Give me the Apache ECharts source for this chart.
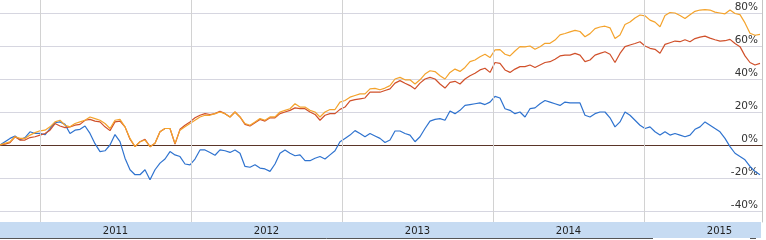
<!DOCTYPE html>
<html><head><meta charset="utf-8">
<script src="https://cdn.jsdelivr.net/npm/echarts@6/dist/echarts.min.js"></script>
<style>html,body{margin:0;padding:0;background:#fff}#c{width:766px;height:240px}</style>
</head><body><div id="c"></div>
<script>
// sample positions (fractional years), one every ~12 days
const startYear = 2010.7351;
const stepYears = 5 / 151;
const endYear = 2015.7815;

const yearLabels = [2011, 2012, 2013, 2014, 2015];

const orange = [
0,1,2,5,4,4,6,7.5,8.6,9,
11,14,15,12,11,13,14,15,17,16,
15,13,10,15,15.5,11,4,-1,2,3,
-1,1,8,10,10,1,9,11,13,15,
17,18,18,19,20,19,17,20,17,13,
12,14,16,15,17,17,20,21,22,25,
23,23,21,20,17,20,21.5,21.5,26,27,
29,30,31,31,34,34.3,33.5,34.5,36,40,
41,39.5,39.5,37,39.5,43,45,44.5,42,40,
44,46,44.6,47,50.5,51.5,53.5,55,53,57.6,
57.8,55,54,57,59.6,59.5,60,58,59.6,61.6,
61.6,63.6,66.7,67.6,68.6,69.5,68.8,65.6,67.5,70.5,
71.5,72,71,64.6,66.7,73,74.5,77,78.8,78.3,
75.7,74.5,71.7,78.5,80.3,80,78.5,76.7,79,81,
81.8,82,81.8,80.5,80,79.5,81.8,79.7,79,74,
67.7,66.5,67
];

const red = [
0,0.5,1.4,5,3,3,4.5,5,6,7,
9,13,11.5,10.5,11,12,12.5,15,15.5,14.5,
14,11,8.7,14,14.5,11,3.5,-1,2,3.5,
-1,1,8,10,10,0.5,9.5,12,14,16.5,
18,19,18.5,19,20.5,19,17,20,17,12.5,
11.5,13.5,15.5,14.5,16.5,16.5,19,20,21,22.5,
22,22,20,18.5,15,18,19,19,21.6,23,
26.7,27.5,28,28.5,32,32,32,33,34,37.5,
39,37.4,36,34,37.5,40,41,40,37,34.5,
38,38.6,37,40,42,43.5,45.5,46.5,44,50,
49.5,45.5,44,46,47.5,47.5,48.5,47,48.5,50,
50.5,52,54,54.5,54.5,55.5,54.5,50.5,51.5,54.5,
55.5,56.5,55,50,55.5,59.6,60.6,61.5,62.6,60,
58.6,58,55.6,61,62,63,62.6,63.8,62.6,64.5,
65.4,66,64.8,63.8,63,63.2,64,61.5,59.6,54,
50,48.5,49.5
];

const blue = [
0,2,4,5.5,3.2,4.5,8,7,7,6.2,
10,13.5,14,12.5,7,9,9.5,11.5,7,0.8,
-4,-3.5,0,6.3,2,-8,-15,-18,-18,-15,
-21,-15,-11,-8.5,-4,-6,-7,-11.5,-12,-8.5,
-3,-3,-4.5,-6.2,-3,-3.5,-4.5,-3,-5,-13,
-13.5,-12,-14,-14.5,-16,-11.5,-5,-3,-5,-6.5,
-6,-9.5,-9.5,-8,-7,-8.5,-6,-3.5,2,4,
6,8.7,7,5,7,5.5,4,1.5,3,8.5,
8.5,7,6,2,5,10,14.5,15.5,16,15,
20.6,19,21,24,24.5,25,25.5,24.5,26,29.5,
28.5,22,21,19,20,17,22,22.5,25,27,
26,25,24,26,25.5,25.5,25.5,18,17,19,
20,20,16.5,11,14,20,18,15,12,10,
11,8,6,8,6,7,6,5,6,9.5,
11,14,12,10,8,4,-1,-5,-7,-9,
-13,-16,-18
];

const dates = orange.map((_, i) => startYear + i * stepYears);
const pair = arr => arr.map((v, i) => [dates[i], v]);
const FONT = 'DejaVu Sans';

const chart = echarts.init(document.getElementById('c'), null, {renderer: 'canvas'});
chart.setOption({
  animation: false,
  backgroundColor: '#ffffff',
  grid: [
    {left: 0, right: 4, top: 13, bottom: 29},
    {left: 0, right: 4, top: 0, bottom: 18}
  ],
  xAxis: [
    {gridIndex: 0, type: 'value', min: startYear, max: endYear,
     axisLine: {show: true, onZero: true, lineStyle: {color: '#5a3528', width: 1}},
     axisTick: {show: false}, axisLabel: {show: false}, splitLine: {show: false}},
    {gridIndex: 1, type: 'value', min: startYear, max: endYear,
     axisLine: {show: false},
     axisTick: {show: true, inside: true, length: 4, customValues: yearLabels,
       lineStyle: {color: '#222', width: 1}},
     axisLabel: {show: true, customValues: yearLabels.map(y => y + 0.5),
       formatter: v => String(Math.floor(v)), fontSize: 10, fontFamily: FONT, color: '#222', margin: 4},
     splitLine: {show: false}}
  ],
  yAxis: [
    {gridIndex: 0, type: 'value', position: 'right', min: -40, max: 80, interval: 20,
     axisLine: {show: false}, axisTick: {show: false},
     axisLabel: {inside: true, margin: 4, verticalAlign: 'bottom', formatter: '{value}%',
       fontSize: 10.5, fontFamily: FONT, color: '#333'},
     splitLine: {show: true, lineStyle: {color: '#d6d6e0', width: 1}}},
    {gridIndex: 1, type: 'value', position: 'right', min: 0, max: 1,
     axisLine: {show: true, lineStyle: {color: '#c4c4c4'}}, axisTick: {show: false},
     axisLabel: {show: false}, splitLine: {show: false}}
  ],
  graphic: {elements: [
    {type: 'rect', z: -10, shape: {x: 0, y: 222, width: 761, height: 16}, style: {fill: '#c6dbf2'}},
    {type: 'line', z: -10, shape: {x1: 0, y1: 238.5, x2: 653, y2: 238.5}, style: {stroke: '#555', lineWidth: 1}},
    {type: 'line', z: -10, shape: {x1: 750, y1: 238.5, x2: 756, y2: 238.5}, style: {stroke: '#555', lineWidth: 1}}
  ]},
  series: [
    {type: 'line', name: 'yearGrid', xAxisIndex: 1, yAxisIndex: 1, data: [], z: 1,
     markLine: {silent: true, symbol: ['none', 'none'], label: {show: false}, animation: false,
       lineStyle: {color: '#d2d2d2', type: 'solid', width: 1},
       data: yearLabels.map(y => ({xAxis: y}))}},
    {type: 'line', name: 'blue', xAxisIndex: 0, yAxisIndex: 0, data: pair(blue), showSymbol: false,
     clip: false, lineStyle: {color: '#2f73cf', width: 1.2}, itemStyle: {color: '#2f73cf'}},
    {type: 'line', name: 'red', xAxisIndex: 0, yAxisIndex: 0, data: pair(red), showSymbol: false,
     clip: false, lineStyle: {color: '#d0502a', width: 1.2}, itemStyle: {color: '#d0502a'}},
    {type: 'line', name: 'orange', xAxisIndex: 0, yAxisIndex: 0, data: pair(orange), showSymbol: false,
     clip: false, lineStyle: {color: '#f4a32c', width: 1.2}, itemStyle: {color: '#f4a32c'}}
  ]
});
</script></body></html>
